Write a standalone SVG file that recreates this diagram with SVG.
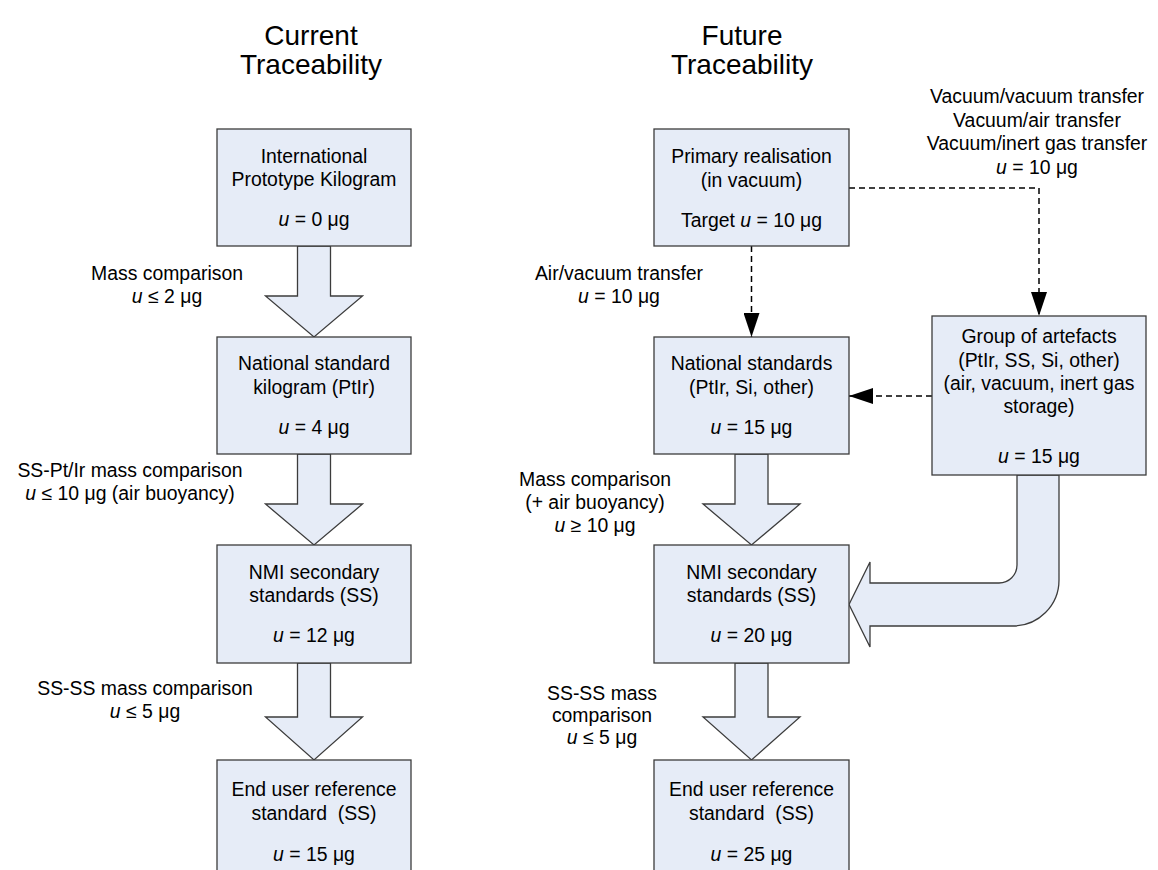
<svg xmlns="http://www.w3.org/2000/svg" width="1158" height="870" viewBox="0 0 1158 870">
<style>
text{font-family:"Liberation Sans",Arial,sans-serif;font-size:19.4px;fill:#000;text-anchor:middle}
.t{font-size:28px}
.pre{white-space:pre}
.box{fill:#e6ecf7;stroke:#3c3c3c;stroke-width:1.3}
.blk{fill:#e6ecf7;stroke:#3c3c3c;stroke-width:1.3;stroke-linejoin:miter}
.dash{fill:none;stroke:#000;stroke-width:1.5;stroke-dasharray:6,4}
.i{font-style:italic}
</style>
<defs>
<marker id="ah" viewBox="0 0 24 16" refX="24" refY="8" markerWidth="24" markerHeight="16" markerUnits="userSpaceOnUse" orient="auto">
<path d="M0,0 L24,8 L0,16 Z" fill="#000"/>
</marker>
</defs>
<rect width="1158" height="870" fill="#fff"/>

<g id="titles">
<text class="t" x="311" y="45">Current</text>
<text class="t" x="311" y="74">Traceability</text>
<text class="t" x="742" y="45">Future</text>
<text class="t" x="742" y="74">Traceability</text>
</g>

<g id="connectors">
<path class="blk" d="M297.5,246 V296 H265.5 L314,337 L362.5,296 H330.5 V246 Z"/>
<path class="blk" d="M297.5,454 V504 H265.5 L314,545 L362.5,504 H330.5 V454 Z"/>
<path class="blk" d="M297.5,663 V717 H265.5 L314,760 L362.5,717 H330.5 V663 Z"/>
<path class="blk" d="M735,454 V504 H703 L751.5,545 L800,504 H768 V454 Z"/>
<path class="blk" d="M735,663 V717 H703 L751.5,760 L800,717 H768 V663 Z"/>
<path class="blk" d="M1017,475 V565 A18,18 0 0 1 999,583 H870 V562 L849,604.5 L870,647 V626 H1013 A46,46 0 0 0 1059,580 V475 Z"/>
<path class="dash" d="M849,188 H1039 V316" marker-end="url(#ah)"/>
<path class="dash" d="M751.5,246 V337" marker-end="url(#ah)"/>
<path class="dash" d="M932,396 H849" marker-end="url(#ah)"/>
<g id="labels">
<text x="167" y="280">Mass comparison</text>
<text x="167" y="303"><tspan class="i">u</tspan> ≤ 2 μg</text>
<text x="130" y="477">SS-Pt/Ir mass comparison</text>
<text x="130" y="500"><tspan class="i">u</tspan> ≤ 10 μg (air buoyancy)</text>
<text x="145" y="695">SS-SS mass comparison</text>
<text x="145" y="718"><tspan class="i">u</tspan> ≤ 5 μg</text>
<text x="619" y="280">Air/vacuum transfer</text>
<text x="619" y="303"><tspan class="i">u</tspan> = 10 μg</text>
<text x="595" y="486">Mass comparison</text>
<text x="595" y="509">(+ air buoyancy)</text>
<text x="595" y="532"><tspan class="i">u</tspan> ≥ 10 μg</text>
<text x="602" y="700">SS-SS mass</text>
<text x="602" y="722">comparison</text>
<text x="602" y="744"><tspan class="i">u</tspan> ≤ 5 μg</text>
<text x="1037" y="103">Vacuum/vacuum transfer</text>
<text x="1037" y="127">Vacuum/air transfer</text>
<text x="1037" y="150">Vacuum/inert gas transfer</text>
<text x="1037" y="174"><tspan class="i">u</tspan> = 10 μg</text>
</g>
</g>

<g id="ipk">
<rect class="box" x="217" y="129" width="194" height="117"/>
<text x="314" y="163">International</text>
<text x="314" y="186">Prototype Kilogram</text>
<text x="314" y="226"><tspan class="i">u</tspan> = 0 μg</text>
</g>
<g id="national-standard">
<rect class="box" x="217" y="337" width="194" height="117"/>
<text x="314" y="370">National standard</text>
<text x="314" y="394">kilogram (PtIr)</text>
<text x="314" y="434"><tspan class="i">u</tspan> = 4 μg</text>
</g>
<g id="nmi-current">
<rect class="box" x="217" y="545" width="194" height="118"/>
<text x="314" y="579">NMI secondary</text>
<text x="314" y="602">standards (SS)</text>
<text x="314" y="642"><tspan class="i">u</tspan> = 12 μg</text>
</g>
<g id="enduser-current">
<rect class="box" x="217" y="760" width="194" height="130"/>
<text x="314" y="796">End user reference</text>
<text class="pre" x="314" y="820">standard  (SS)</text>
<text x="314" y="861"><tspan class="i">u</tspan> = 15 μg</text>
</g>

<g id="primary">
<rect class="box" x="654" y="129" width="195" height="117"/>
<text x="751.5" y="163">Primary realisation</text>
<text x="751.5" y="187">(in vacuum)</text>
<text x="751.5" y="227">Target <tspan class="i">u</tspan> = 10 μg</text>
</g>
<g id="national-standards">
<rect class="box" x="654" y="337" width="195" height="117"/>
<text x="751.5" y="370">National standards</text>
<text x="751.5" y="394">(PtIr, Si, other)</text>
<text x="751.5" y="434"><tspan class="i">u</tspan> = 15 μg</text>
</g>
<g id="group">
<rect class="box" x="932" y="316" width="214" height="159"/>
<text x="1039" y="343">Group of artefacts</text>
<text x="1039" y="367">(PtIr, SS, Si, other)</text>
<text x="1039" y="390">(air, vacuum, inert gas</text>
<text x="1039" y="413">storage)</text>
<text x="1039" y="463"><tspan class="i">u</tspan> = 15 μg</text>
</g>
<g id="nmi-future">
<rect class="box" x="654" y="545" width="195" height="118"/>
<text x="751.5" y="579">NMI secondary</text>
<text x="751.5" y="602">standards (SS)</text>
<text x="751.5" y="642"><tspan class="i">u</tspan> = 20 μg</text>
</g>
<g id="enduser-future">
<rect class="box" x="654" y="760" width="195" height="130"/>
<text x="751.5" y="796">End user reference</text>
<text class="pre" x="751.5" y="820">standard  (SS)</text>
<text x="751.5" y="861"><tspan class="i">u</tspan> = 25 μg</text>
</g>
</svg>
